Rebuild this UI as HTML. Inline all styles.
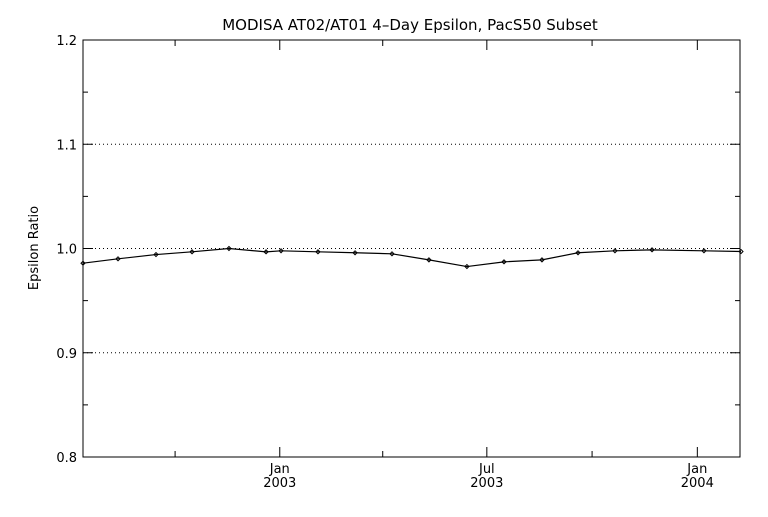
<!DOCTYPE html>
<html><head><meta charset="utf-8"><style>
body{margin:0;background:#fff}
svg text{font-family:"DejaVu Sans","Liberation Sans",sans-serif;font-size:13px;fill:#000}
</style></head><body>
<svg id="c" width="768" height="512" xmlns="http://www.w3.org/2000/svg">
<text x="410" y="30" text-anchor="middle" style="font-size:15px">MODISA AT02/AT01 4–Day Epsilon, PacS50 Subset</text>
<text transform="translate(38,248) rotate(-90)" text-anchor="middle">Epsilon Ratio</text>
</svg>
<script>
const days=[0,30.6,63.8,95.3,127.6,160,173.1,205.4,237.8,270.1,302.4,335.6,368,401.2,432.7,465,497.4,542.8,575.2];
const values=[0.9859,0.9901,0.9942,0.9968,1.0,0.9968,0.9978,0.9968,0.9959,0.9949,0.9891,0.9827,0.9872,0.9891,0.9959,0.9978,0.9987,0.9978,0.9971];
const yTicks=[0.8,0.9,1.0,1.1,1.2];
const yTickLabels=["0.8","0.9","1.0","1.1","1.2"];
const xMajorDays=[172,353,537];
const xMajorLabels=[["Jan","2003"],["Jul","2003"],["Jan","2004"]];
const xMinorDays=[80.5,262,445];
const L=83,R=740,T=40,B=457,xMax=(740-83)/1.144;
const X=d=>L+d/xMax*(R-L);
const Y=v=>B-(v-0.8)/0.4*(B-T);
const svg=document.getElementById('c');const NS='http://www.w3.org/2000/svg';
function el(t,a,name){const e=document.createElementNS(NS,t);for(const k in a)e.setAttribute(k,a[k]);


svg.appendChild(e);return e;}
yTicks.forEach((v,i)=>{const y=Y(v);
if(i>0&&i<yTicks.length-1)el('line',{x1:L,x2:R,y1:y,y2:y,stroke:'#000','stroke-dasharray':'1 3','stroke-width':1},'grid-line');
el('line',{x1:L,x2:L+10,y1:y,y2:y,stroke:'#000'},'y-tick');
el('line',{x1:R-10,x2:R,y1:y,y2:y,stroke:'#000'},'y-tick-right');
const t=el('text',{x:L-6,y:y+5,'text-anchor':'end'},'y-tick-label');t.textContent=yTickLabels[i];});
for(let i=0;i<4;i++){const v=0.8+0.1*i+0.05,y=Y(v);
el('line',{x1:L,x2:L+5,y1:y,y2:y,stroke:'#000'},'y-minor-tick');
el('line',{x1:R-5,x2:R,y1:y,y2:y,stroke:'#000'},'y-minor-tick-right');}
el('rect',{x:L,y:T,width:R-L,height:B-T,fill:'none',stroke:'#000'},'plot-frame');
xMajorDays.forEach((d,i)=>{const x=X(d);
el('line',{x1:x,x2:x,y1:B,y2:B-10,stroke:'#000'},'x-tick');
el('line',{x1:x,x2:x,y1:T,y2:T+10,stroke:'#000'},'x-tick-top');
const a=el('text',{x:x,y:B+16,'text-anchor':'middle'},'x-tick-month');a.textContent=xMajorLabels[i][0];
const b=el('text',{x:x,y:B+30,'text-anchor':'middle'},'x-tick-year');b.textContent=xMajorLabels[i][1];});
xMinorDays.forEach(d=>{const x=X(d);
el('line',{x1:x,x2:x,y1:B,y2:B-6,stroke:'#000'},'x-minor-tick');
el('line',{x1:x,x2:x,y1:T,y2:T+6,stroke:'#000'},'x-minor-tick-top');});
el('polyline',{points:days.map((d,i)=>X(d)+','+Y(values[i])).join(' '),fill:'none',stroke:'#000','stroke-width':1.2},'epsilon-line');
days.forEach((d,i)=>{const x=X(d),y=Y(values[i]);
el('path',{d:`M${x-2},${y}L${x},${y-2}L${x+2},${y}L${x},${y+2}Z`,fill:'none',stroke:'#000'},'data-point');});
</script>
</body></html>
